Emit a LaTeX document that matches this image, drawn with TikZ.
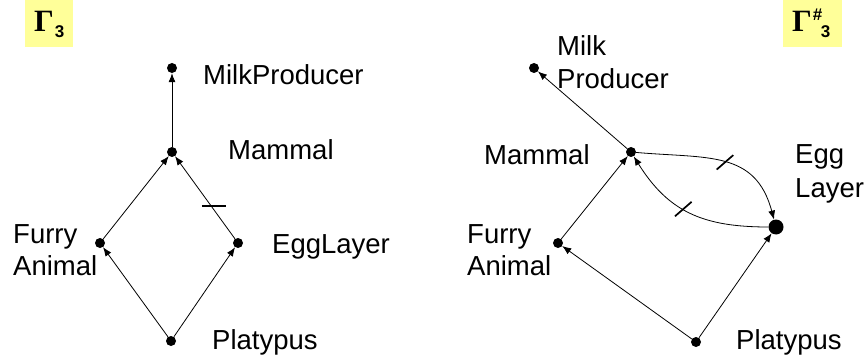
\documentclass[tikz,border=0pt]{standalone}
\usepackage{fontspec}
\setmainfont{Liberation Sans}
\newfontfamily\serifgr{Liberation Serif}
\usetikzlibrary{arrows.meta}
\definecolor{hly}{HTML}{FFFF99}
\newcommand{\scrfont}{\normalfont\bfseries\fontsize{17}{18}\selectfont}
\begin{document}
\begin{tikzpicture}[x=1pt,y=-1pt,
  dot/.style={circle,fill=black,inner sep=0pt,minimum size=10pt},
  bigdot/.style={dot,minimum size=15pt},
  lbl/.style={anchor=base west,inner sep=0pt,font=\fontsize{27.5}{30}\selectfont},
  gam/.style={anchor=base west,inner sep=0pt,font=\serifgr\bfseries\fontsize{31}{32}\selectfont},
  conn/.style={-{Latex[length=9pt,width=7pt]},line width=0.8pt},
  tickmark/.style={line width=1.6pt},
  tickn/.style={rotate=-49,rectangle,fill=black,inner sep=0pt,minimum width=1.7pt,minimum height=22pt},
  hlbox/.style={fill=hly,draw=none}]
\useasboundingbox (0,0) rectangle (864,358);
% title boxes
\fill[hlbox] (25,0) rectangle (73,47);
\fill[hlbox] (783,0) rectangle (842,47);
\node[gam] (g1) at (34,32) {Γ\kern1pt\raisebox{-6pt}{\scrfont 3}};
\node[gam] (g2) at (792,32) {Γ\kern1pt\raisebox{11pt}{\scrfont\#}\kern-1.5pt\raisebox{-6pt}{\scrfont 3}};
% left graph
\node[dot] (lmp) at (172,68) {};
\node[dot] (lmam) at (172,152) {};
\node[dot] (lfur) at (100,243) {};
\node[dot] (legg) at (238,243) {};
\node[dot] (lpla) at (171,341) {};
\node[lbl] (tlmp) at (203,85) {MilkProducer};
\node[lbl] (tlmam) at (228,160) {Mammal};
\node[lbl] (tlfur1) at (13,243) {Furry};
\node[lbl] (tlfur2) at (13,275) {Animal};
\node[lbl] (tlegg) at (272,253) {EggLayer};
\node[lbl] (tlpla) at (212,349) {Platypus};
\draw[conn] (lmam) -- (lmp);
\draw[conn] (lfur) -- (lmam);
\draw[conn] (legg) -- coordinate[pos=0.4] (lt) (lmam);
\draw[conn] (lpla) -- (lfur);
\draw[conn] (lpla) -- (legg);
\draw[tickmark] ([xshift=-9pt]lt) -- ([xshift=15pt]lt);
% right graph
\node[dot] (rmp) at (534,68) {};
\node[dot] (rmam) at (631,152) {};
\node[dot] (rfur) at (558,243) {};
\node[bigdot] (regg) at (776,227) {};
\node[dot] (rpla) at (696,342) {};
\node[lbl] (trmp1) at (557,56) {Milk};
\node[lbl] (trmp2) at (557,89) {Producer};
\node[lbl] (trmam) at (484,165) {Mammal};
\node[lbl] (trfur1) at (467,243) {Furry};
\node[lbl] (trfur2) at (467,275) {Animal};
\node[lbl] (tregg1) at (795,164) {Egg};
\node[lbl] (tregg2) at (795,197) {Layer};
\node[lbl] (trpla) at (736,349) {Platypus};
\draw[conn] (rmam) -- (rmp);
\draw[conn] (rfur) -- (rmam);
\draw[conn] (rpla) -- (rfur);
\draw[conn] (rpla) -- (regg);
\draw[conn] (rmam) to[out=-5,in=105,looseness=1.2] node[tickn,pos=0.5] (tk1) {} (regg);
\draw[conn] (regg) to[out=180,in=-58,looseness=1.1] node[tickn,pos=0.55] (tk2) {} (rmam);
\end{tikzpicture}
\end{document}
